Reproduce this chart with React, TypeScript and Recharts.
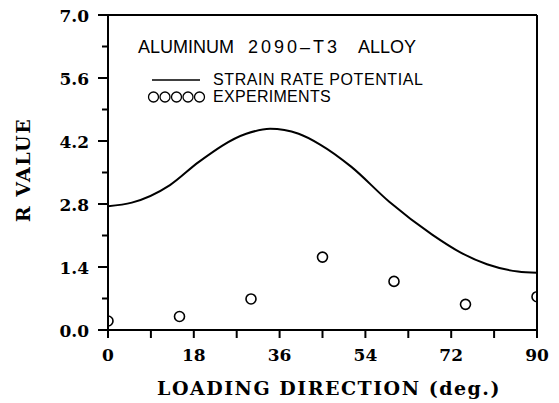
import React from "react";
import { ComposedChart, Line, Scatter, XAxis, YAxis, ReferenceLine } from "recharts";

// strain rate potential curve
const curveDeg = [0, 5, 13, 19, 29, 34, 40, 44.5, 51, 59, 68, 74, 79.5, 86, 90];
const curveR = [2.75, 2.83, 3.22, 3.73, 4.36, 4.47, 4.36, 4.12, 3.63, 2.85, 2.12, 1.72, 1.46, 1.3, 1.27];

// experiments
const expDeg = [0, 15, 30, 45, 60, 75, 90];
const expR = [0.2, 0.3, 0.69, 1.62, 1.08, 0.57, 0.74];

const xTicks = [0, 9, 18, 27, 36, 45, 54, 63, 72, 81, 90];
const yTicks = [0, 0.7, 1.4, 2.1, 2.8, 3.5, 4.2, 4.9, 5.6, 6.3, 7.0];

const curveData = curveDeg.map((d, i) => ({ deg: d, r: curveR[i] }));
const expData = expDeg.map((d, i) => ({ deg: d, r: expR[i] }));

const tickFont = "'DejaVu Serif', serif";
const isMajor = (v: number, step: number) => Math.abs(v / step - Math.round(v / step)) < 1e-6;

const YTick = (props: any) => {
  const { x, y, payload } = props;
  const v = payload.value as number;
  const major = isMajor(v, 1.4);
  return (
    <g>
      <line x1={x} x2={x - (major ? 10 : 6)} y1={y} y2={y} stroke="#000" strokeWidth={2} />
      {major && (
        <text x={x - 19} y={y + 7} textAnchor="end" fontFamily={tickFont} fontWeight="bold" fontSize={17} fill="#000">
          {v.toFixed(1)}
        </text>
      )}
    </g>
  );
};

const XTick = (props: any) => {
  const { x, y, payload } = props;
  const v = payload.value as number;
  const major = isMajor(v, 18);
  return (
    <g>
      <line x1={x} x2={x} y1={y} y2={y + 8} stroke="#000" strokeWidth={2} />
      {major && (
        <text x={x} y={y + 31} textAnchor="middle" fontFamily={tickFont} fontWeight="bold" fontSize={17} fill="#000">
          {v}
        </text>
      )}
    </g>
  );
};

const OpenCircle = (props: any) => {
  const { cx, cy } = props;
  return <circle cx={cx} cy={cy} r={5} fill="none" stroke="#000" strokeWidth={1.6} />;
};

export default function App() {
  const sans = "'Liberation Sans', Arial, sans-serif";
  return (
    <div style={{ position: "absolute", left: 0, top: 0, width: 559, height: 403, background: "#fff" }}>
      <ComposedChart width={559} height={403} margin={{ top: 15, right: 22, bottom: 0, left: 0 }}>
        <XAxis
          type="number"
          dataKey="deg"
          domain={[0, 90]}
          ticks={xTicks}
          interval={0}
          height={73}
          tickSize={0}
          tickMargin={0}
          tick={<XTick />}
          axisLine={{ stroke: "#000", strokeWidth: 2 }}
          allowDataOverflow
        />
        <YAxis
          type="number"
          dataKey="r"
          domain={[0, 7]}
          ticks={yTicks}
          interval={0}
          width={108}
          tickSize={0}
          tickMargin={0}
          tick={<YTick />}
          axisLine={{ stroke: "#000", strokeWidth: 2 }}
          allowDataOverflow
        />
        <ReferenceLine y={7} stroke="#000" strokeWidth={2} />
        <ReferenceLine x={90} stroke="#000" strokeWidth={2} />
        <Line
          data={curveData}
          dataKey="r"
          type="monotone"
          stroke="#000"
          strokeWidth={2}
          dot={false}
          isAnimationActive={false}
        />
        <Scatter data={expData} dataKey="r" shape={<OpenCircle />} isAnimationActive={false} />
      </ComposedChart>

      <svg width={559} height={403} style={{ position: "absolute", left: 0, top: 0, pointerEvents: "none" }}>
        <text x={138} y={53} fontFamily={sans} fontSize={18} fill="#000">ALUMINUM</text>
        <text x={248} y={53} fontFamily={sans} fontSize={18} fill="#000" letterSpacing={3}>2090–T3</text>
        <text x={358} y={53} fontFamily={sans} fontSize={18} fill="#000">ALLOY</text>

        <line x1={152} x2={200} y1={80} y2={80} stroke="#000" strokeWidth={1.6} />
        <text x={213} y={85} fontFamily={sans} fontSize={16} letterSpacing={0.6} fill="#000">STRAIN RATE POTENTIAL</text>
        {[153.5, 165, 176.5, 188, 199.5].map((cx) => (
          <circle key={cx} cx={cx} cy={97} r={5} fill="none" stroke="#000" strokeWidth={1.3} />
        ))}
        <text x={213} y={102} fontFamily={sans} fontSize={16} letterSpacing={0.3} fill="#000">EXPERIMENTS</text>

        <text
          x={329}
          y={395}
          textAnchor="middle"
          fontFamily={tickFont}
          fontWeight="bold"
          fontSize={19}
          letterSpacing={1.5}
          fill="#000"
        >
          LOADING DIRECTION (deg.)
        </text>
        <text
          x={0}
          y={0}
          transform="translate(30,170) rotate(-90)"
          textAnchor="middle"
          fontFamily={tickFont}
          fontWeight="bold"
          fontSize={19}
          letterSpacing={1.5}
          fill="#000"
        >
          R VALUE
        </text>
      </svg>
    </div>
  );
}
